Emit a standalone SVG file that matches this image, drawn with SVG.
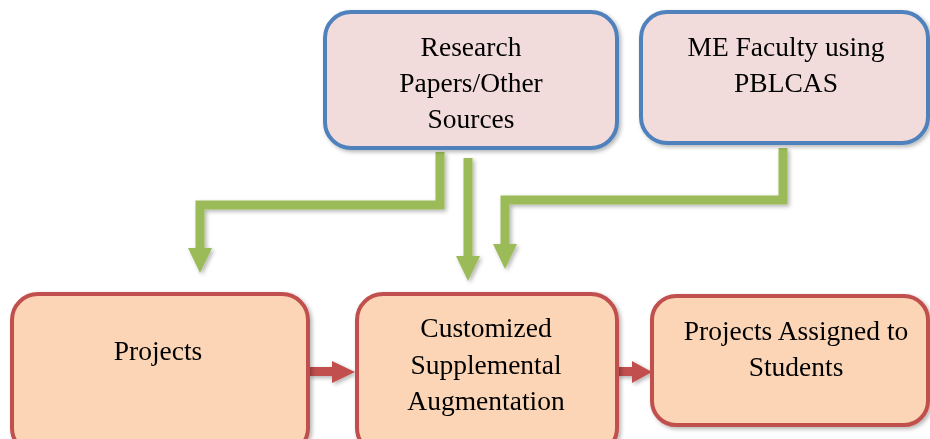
<svg xmlns="http://www.w3.org/2000/svg" width="930" height="439" viewBox="0 0 930 439">
<defs>
<style>
.top{fill:#f2dcdb;stroke:#4f81bd;stroke-width:4}
.bot{fill:#fbd5b5;stroke:#c0504d;stroke-width:4}
.t{font-family:"Liberation Serif","Times New Roman",serif;font-size:27.5px;fill:#000;text-anchor:middle}
.g{fill:none;stroke:#9bbb59;stroke-width:9}
.gh{fill:#9bbb59}
.r{fill:#c0504d}
</style>
<filter id="sh" x="-10%" y="-10%" width="130%" height="130%">
<feGaussianBlur in="SourceAlpha" stdDeviation="2"/>
<feOffset dx="2" dy="2"/>
<feComponentTransfer><feFuncA type="linear" slope="0.3"/></feComponentTransfer>
<feMerge><feMergeNode/><feMergeNode in="SourceGraphic"/></feMerge>
</filter>
</defs>
<rect width="930" height="439" fill="#fff"/>
<g id="connectors" filter="url(#sh)">
<path class="g" d="M440,152 V205 H200 V250"/>
<polygon class="gh" points="188,248 212,248 200,273"/>
<path class="g" d="M468,158 V258"/>
<polygon class="gh" points="456,256 480,256 468,281"/>
<path class="g" d="M783,148 V200 H505 V246"/>
<polygon class="gh" points="493,244 517,244 505,269"/>
<polygon class="r" points="308,367 332,367 332,361 355,372 332,383 332,376 308,376"/>
<polygon class="r" points="617,367 632,367 632,361 652,372 632,383 632,376 617,376"/>
</g>
<g id="research" filter="url(#sh)">
<rect class="top" x="325" y="12" width="292" height="136" rx="26"/>
<text class="t" x="471" y="56">Research</text>
<text class="t" x="471" y="92">Papers/Other</text>
<text class="t" x="471" y="128">Sources</text>
</g>
<g id="faculty" filter="url(#sh)">
<rect class="top" x="641" y="12" width="287" height="131" rx="26"/>
<text class="t" x="786" y="56">ME Faculty using</text>
<text class="t" x="786" y="92">PBLCAS</text>
</g>
<g id="projects" filter="url(#sh)">
<rect class="bot" x="12" y="294" width="296" height="160" rx="26"/>
<text class="t" x="158" y="360">Projects</text>
</g>
<g id="customized" filter="url(#sh)">
<rect class="bot" x="357" y="294" width="260" height="160" rx="26"/>
<text class="t" x="486" y="337">Customized</text>
<text class="t" x="486" y="374">Supplemental</text>
<text class="t" x="486" y="410">Augmentation</text>
</g>
<g id="assigned" filter="url(#sh)">
<rect class="bot" x="652" y="296" width="276" height="129" rx="24"/>
<text class="t" x="796" y="340">Projects Assigned to</text>
<text class="t" x="796" y="376">Students</text>
</g>
</svg>
